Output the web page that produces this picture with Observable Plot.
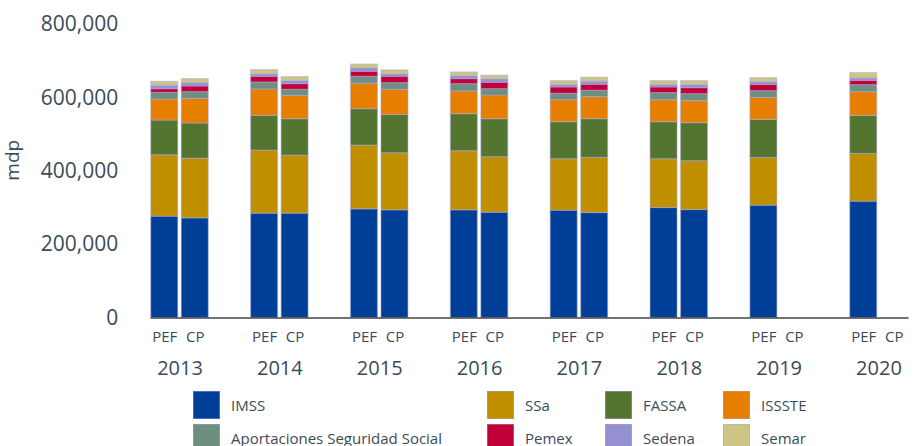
<!DOCTYPE html>
<html>
<head>
<meta charset="utf-8">
<script src="https://cdn.jsdelivr.net/npm/d3@7"></script>
<script src="https://cdn.jsdelivr.net/npm/@observablehq/plot@0.6"></script>
<style>
  html, body { margin: 0; padding: 0; background: #fff; overflow: hidden; width: 919px; height: 446px; }
  #chart { width: 919px; }
  #legend {
    display: grid;
    grid-template-columns: 294px 118px 118px 160px;
    grid-auto-rows: 32.5px;
    padding-left: 193px;
    margin-top: 5px;
    font-family: "Open Sans", sans-serif;
    font-size: 15px;
    color: #3c4b5a;
  }
  .item { display: flex; align-items: flex-start; white-space: nowrap; }
  .sw { width: 27px; height: 28px; margin-right: 11px; flex: none; box-sizing: border-box; border: 1px solid rgba(169,166,224,0.45); }
  .lb { line-height: 28px; }
</style>
</head>
<body>
<div id="chart"></div>
<div id="legend"></div>
<script>
const years = ["2013","2014","2015","2016","2017","2018","2019","2020"];
const types = ["PEF","CP"];
const barYears = ["2013","2013","2014","2014","2015","2015","2016","2016","2017","2017","2018","2018","2019","2020"];
const barTypes = ["PEF","CP","PEF","CP","PEF","CP","PEF","CP","PEF","CP","PEF","CP","PEF","PEF"];
const seriesNames = ["IMSS","SSa","FASSA","ISSSTE","Aportaciones Seguridad Social","Pemex","Sedena","Semar"];
const colors = ["#003f97","#bf8f00","#53752f","#e67e00","#6d8f80","#c00037","#9590d0","#cdc583"];
const yTicks = [0, 200000, 400000, 600000, 800000];

const imss   = [276200, 271600, 284400, 284400, 296200, 293500, 293500, 287100, 292600, 286200, 299800, 294400, 306200, 317100];
const ssa    = [167400, 162900, 172000, 158300, 173800, 155600, 161100, 151100, 140100, 150200, 132900, 132900, 130100, 130100];
const fassa  = [94600, 95600, 94600, 99200, 99200, 104700, 101000, 103700, 101000, 105600, 101000, 103700, 103700, 103700];
const issste = [57300, 67300, 71900, 63700, 69200, 68300, 61900, 64600, 60100, 60100, 60100, 60100, 60100, 64600];
const aport  = [18200, 18200, 19100, 16400, 19100, 18200, 20000, 17300, 17300, 17300, 19100, 19100, 18200, 19100];
const pemex  = [10000, 15500, 15500, 15500, 13700, 17300, 13700, 17300, 17300, 16400, 15500, 16400, 17300, 11800];
const sedena = [9100, 9100, 6400, 8200, 9100, 6400, 8200, 9100, 6400, 8200, 6400, 8200, 7300, 6400];
const semar  = [11000, 11000, 12000, 11000, 10500, 11000, 10000, 10500, 11000, 11000, 11000, 11000, 11000, 15000];

const seriesValues = [imss, ssa, fassa, issste, aport, pemex, sedena, semar];

const table = [];
seriesNames.forEach((s, si) => {
  seriesValues[si].forEach((v, i) => {
    table.push({series: s, year: barYears[i], type: barTypes[i], value: v});
  });
});

const textColor = "#3a4a5b";

const plot = Plot.plot({
  width: 919,
  height: 386,
  marginLeft: 128,
  marginRight: -11,
  marginTop: 24,
  marginBottom: 68.5,
  style: {fontFamily: "'Open Sans', sans-serif", color: textColor, background: "#fff", overflow: "visible"},
  fx: {domain: years, paddingInner: 0.4244, paddingOuter: 0.228, round: false},
  x: {domain: types, paddingInner: 0.115, paddingOuter: 0, round: false},
  y: {domain: [0, 800000]},
  color: {domain: seriesNames, range: colors},
  marks: [
    Plot.barY(table, {
      fx: "year", x: "type", y: "value", fill: "series", z: "series",
      stroke: "#a9a6e0", strokeOpacity: 0.45, strokeWidth: 1.2
    }),
    Plot.frame({anchor: "bottom", stroke: "#444", strokeWidth: 1.5, facet: "super"}),
    Plot.axisY({ticks: yTicks, tickFormat: d3.format(","), tickSize: 0, tickPadding: 33, fontSize: 21,
      label: "mdp", labelAnchor: "center", labelArrow: "none", labelOffset: 146}),
    Plot.axisX({tickSize: 0, tickPadding: 13, fontSize: 15, label: null}),
    Plot.axisFx({anchor: "bottom", tickSize: 0, tickPadding: 43, fontSize: 20, label: null})
  ]
});
document.getElementById("chart").appendChild(plot);

plot.querySelectorAll("text").forEach(t => {
  if (t.textContent.trim() === "mdp") {
    t.setAttribute("font-size", "19");
    t.style.fontSize = "19px";
    t.setAttribute("dx", "11");
  }
});

const legend = document.getElementById("legend");
seriesNames.forEach((s, i) => {
  const item = document.createElement("div");
  item.className = "item";
  const sw = document.createElement("div");
  sw.className = "sw";
  sw.style.background = colors[i];
  const lb = document.createElement("span");
  lb.className = "lb";
  lb.textContent = s;
  item.appendChild(sw);
  item.appendChild(lb);
  legend.appendChild(item);
});
</script>
</body>
</html>
